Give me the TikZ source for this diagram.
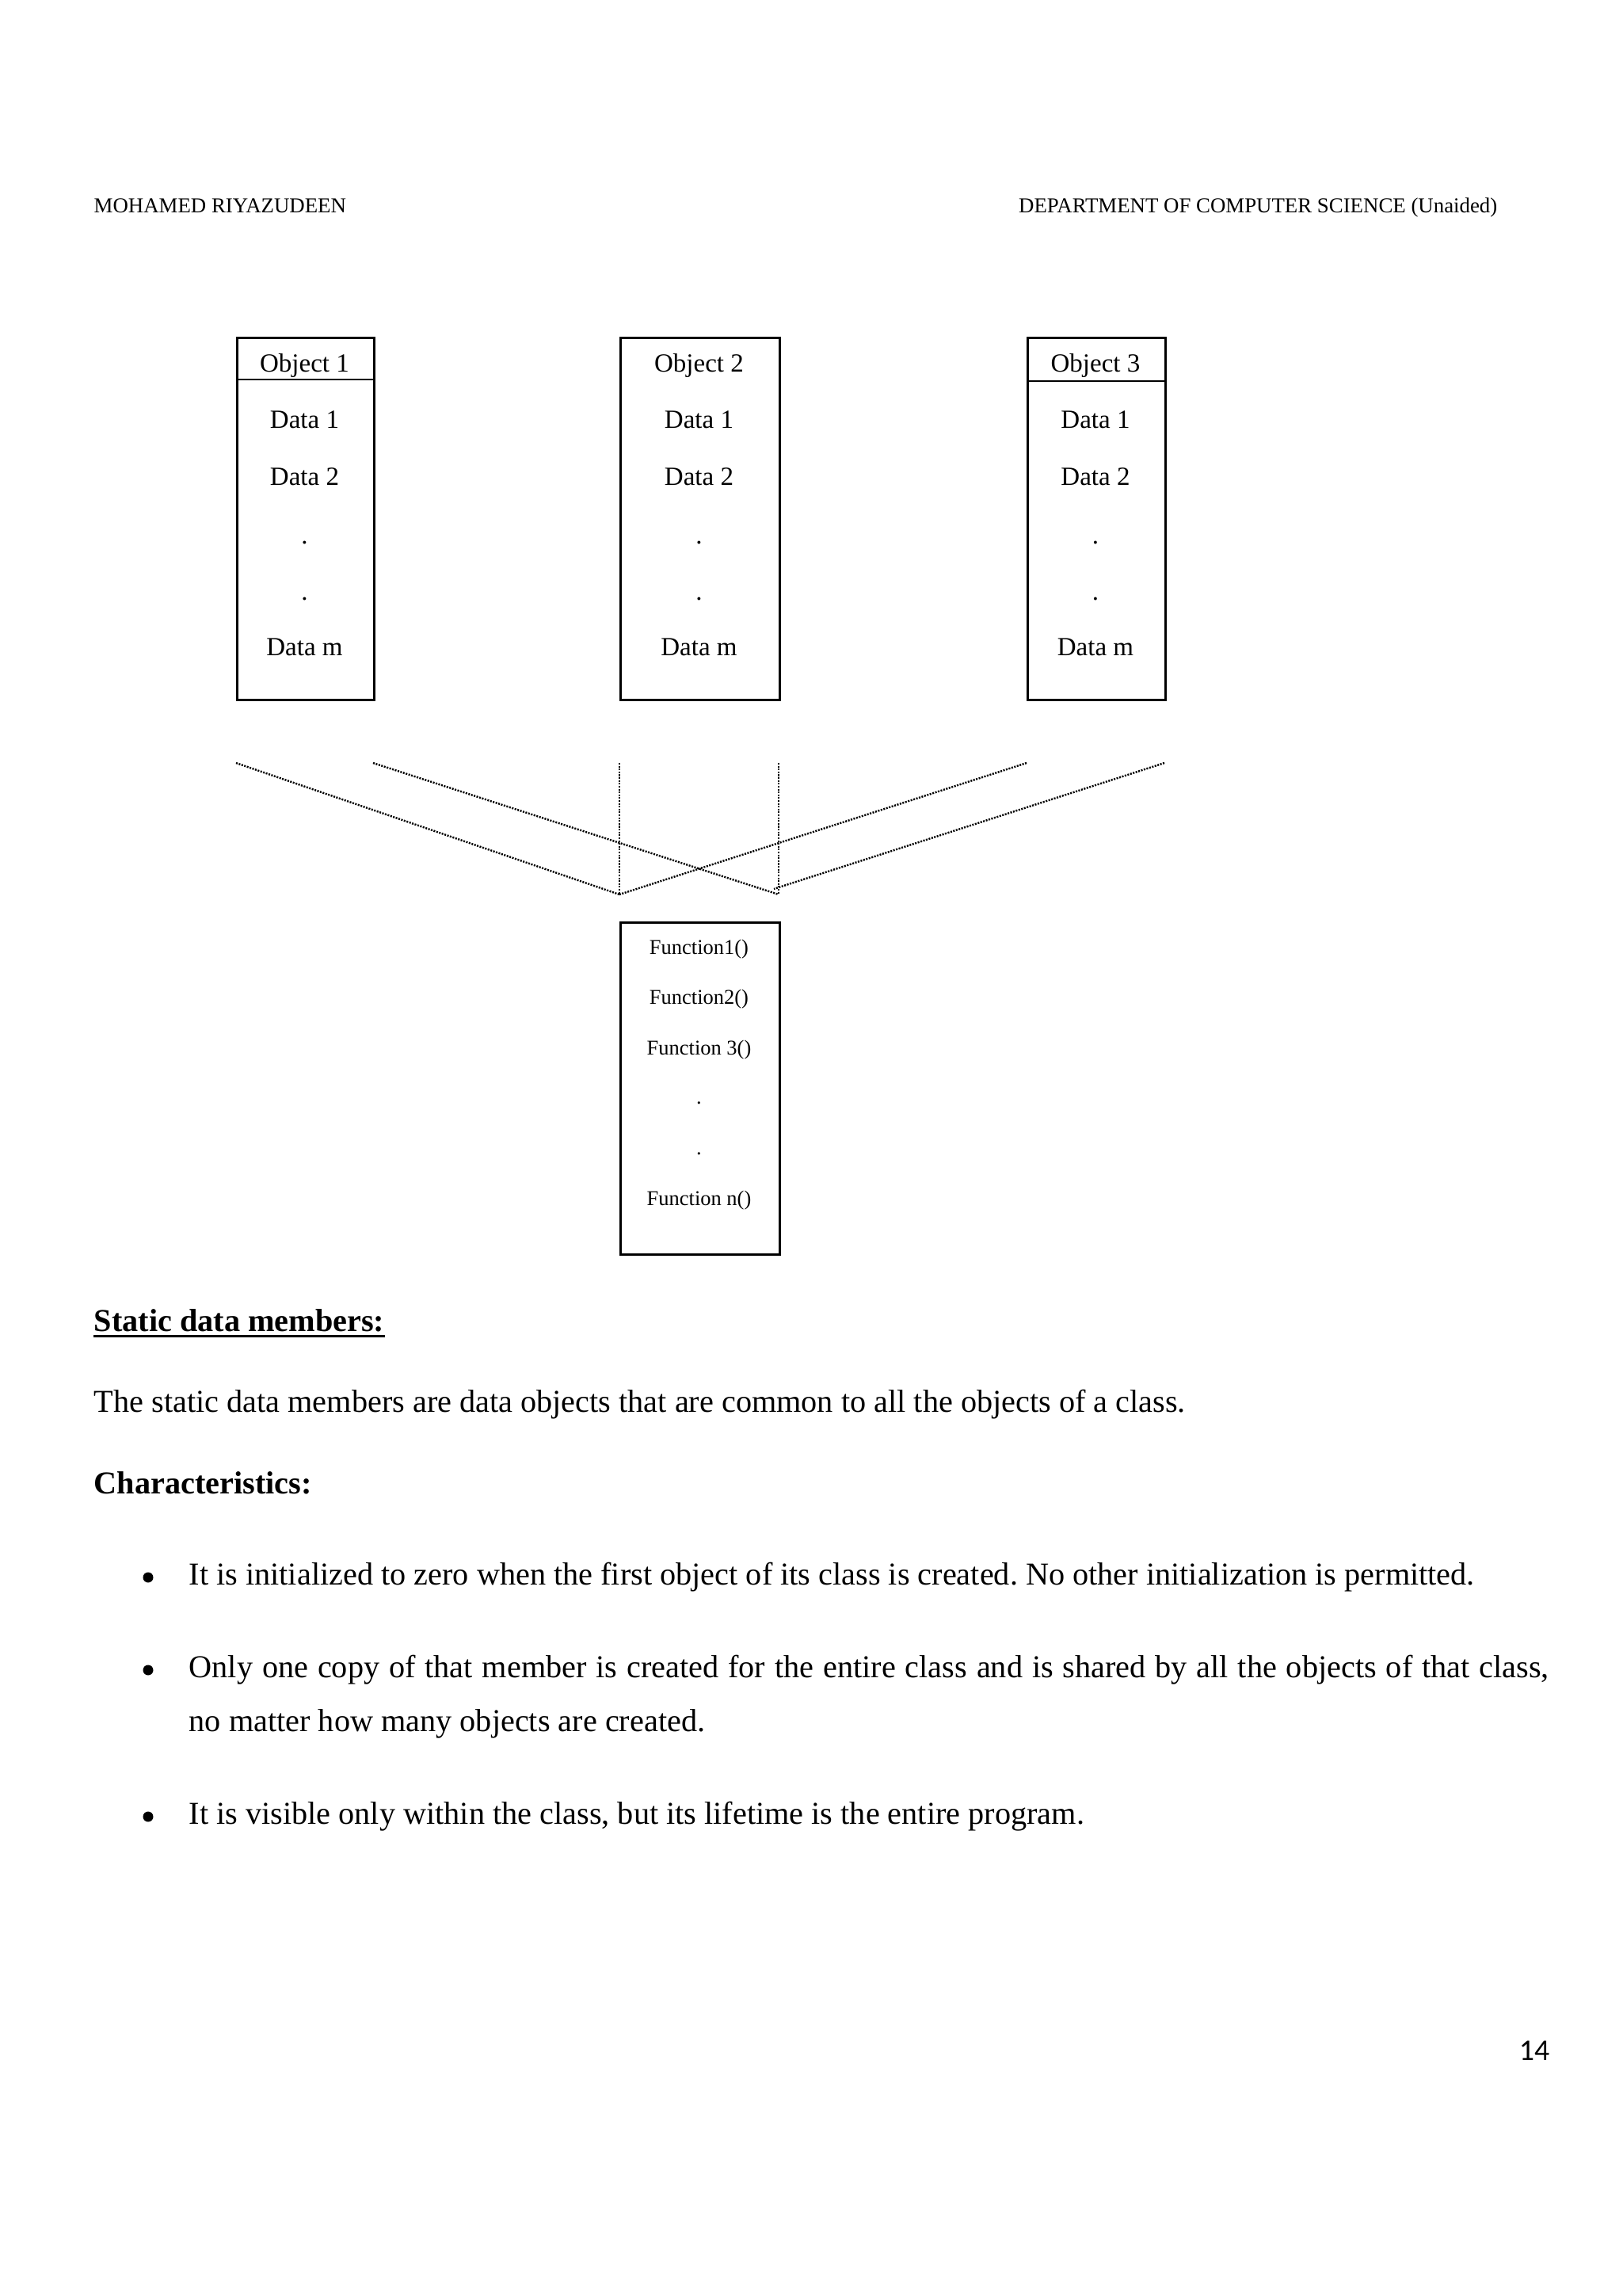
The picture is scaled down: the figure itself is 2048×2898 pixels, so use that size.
\documentclass[tikz,border=0pt]{standalone}
\usepackage{fontspec}
\setmainfont{Liberation Serif}
\newfontfamily\pagefont{Carlito}
\newlength{\pix}
\setlength{\pix}{0.29067pt}
\frenchspacing

\begin{document}
\begin{tikzpicture}[x=0.29067pt,y=-0.29067pt,
  frame/.style={draw,line width=0.8pt,inner sep=0pt,anchor=north west},
  entry/.style={inner sep=0pt,anchor=base,font=\fontsize{9.6}{11}\selectfont},
  fentry/.style={entry,font=\fontsize{7.7}{9}\selectfont},
  link/.style={line width=0.7pt,dash pattern=on 0.6pt off 0.45pt},
  txt/.style={inner sep=0pt,anchor=base west,font=\fontsize{11.7}{14}\selectfont},
  bul/.style={circle,fill,inner sep=0pt,minimum size=13\pix},
  head/.style={inner sep=0pt,font=\fontsize{7.8}{9}\selectfont}]
  \useasboundingbox[fill=white] (0,0) rectangle (2048,2898);
  % page header
  \node[head,anchor=base west] (author) at (118,268) {MOHAMED RIYAZUDEEN};
  \node[head,anchor=base east] (dept) at (1891,268) {DEPARTMENT OF COMPUTER SCIENCE (Unaided)};
  % objects
  \node[frame,minimum width=173\pix,minimum height=457\pix] (obj1) at (298,425) {};
  \node[frame,minimum width=201\pix,minimum height=457\pix] (obj2) at (782,425) {};
  \node[frame,minimum width=174\pix,minimum height=457\pix] (obj3) at (1296,425) {};
  \draw[line width=0.8pt] (obj1.north west) ++(0,54) -- ++(173,0);
  \draw[line width=0.8pt] (obj3.north west) ++(0,56) -- ++(174,0);
  \foreach \n/\x in {1/384.5,2/882.5,3/1383} {
    \node[entry] (name\n) at (\x,469) {Object \n};
    \node[entry] (dfirst\n) at (\x,540) {Data 1};
    \node[entry] (dsecond\n) at (\x,612) {Data 2};
    \node[entry] (dotA\n) at (\x,686) {.};
    \node[entry] (dotB\n) at (\x,757) {.};
    \node[entry] (dlast\n) at (\x,827) {Data m};
  }
  % shared member functions
  \node[frame,minimum width=201\pix,minimum height=419\pix] (funcs) at (782,1163) {};
  \node[fentry] (fone) at (882.5,1204) {Function1()};
  \node[fentry] (ftwo) at (882.5,1267) {Function2()};
  \node[fentry] (fthree) at (882.5,1331) {Function 3()};
  \node[fentry] (fdotA) at (882.5,1393) {.};
  \node[fentry] (fdotB) at (882.5,1457) {.};
  \node[fentry] (flast) at (882.5,1521) {Function n()};
  % dotted links
  \coordinate (o1l) at (298,963);
  \coordinate (o1r) at (471,963);
  \coordinate (o2l) at (782,963);
  \coordinate (o2r) at (983,963);
  \coordinate (o3l) at (1296,963);
  \coordinate (o3r) at (1470,963);
  \coordinate (fl) at (782,1129);
  \coordinate (fr) at (983,1129);
  \coordinate (fm) at (977,1122);
  \draw[link] (o1l) -- (fl);
  \draw[link] (o1r) -- (fr);
  \draw[link] (o2l) -- (fl);
  \draw[link] (o2r) -- (fr);
  \draw[link] (o3l) -- (fl);
  \draw[link] (o3r) -- (fm);
  % text below
  \node[txt,font=\fontsize{11.7}{14}\selectfont\bfseries] (static) at (118,1680) {Static data members:};
  \draw[line width=0.9pt] ([yshift=-1.8pt]static.base west) -- ([yshift=-1.8pt]static.base east);
  \node[txt] (intro) at (118,1782) {The static data members are data objects that are common to all the objects of a class.};
  \node[txt,font=\fontsize{11.7}{14}\selectfont\bfseries] (charact) at (118,1885) {Characteristics:};
  \node[bul] (bulA) at (187,1991) {};
  \node[bul] (bulB) at (187,2108) {};
  \node[bul] (bulC) at (187,2293) {};
  \node[txt] (itemA) at (238,2000) {It is initialized to zero when the first object of its class is created. No other initialization is permitted.};
  \node[txt] (itemB) at (238,2117) {\makebox[1717\pix][s]{Only one copy of that member is created for the entire class and is shared by all the objects of that class,}};
  \node[txt] (itemBb) at (238,2185) {no matter how many objects are created.};
  \node[txt] (itemC) at (238,2302) {It is visible only within the class, but its lifetime is the entire program.};
  % page number
  \node[inner sep=0pt,anchor=base,font=\pagefont\fontsize{11}{13}\selectfont] (pageno) at (1937,2600) {14};
\end{tikzpicture}
\end{document}
